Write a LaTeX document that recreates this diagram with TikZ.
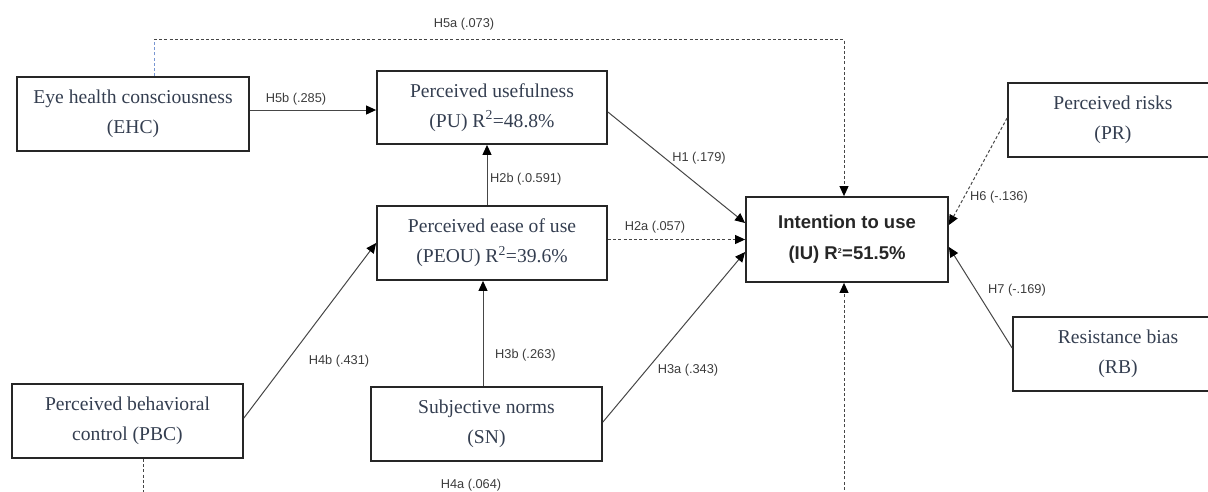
\documentclass[tikz,border=0pt]{standalone}
\usepackage{fontspec}
\setmainfont{Liberation Serif}
\setsansfont{Liberation Sans}
\usetikzlibrary{arrows.meta}
\definecolor{boxtext}{RGB}{52,62,80}
\definecolor{linegray}{RGB}{70,70,70}
\definecolor{labgray}{RGB}{60,60,60}
\definecolor{dotblue}{RGB}{120,150,210}
\tikzset{
  box/.style={draw=black!85, line width=1.8pt, rectangle, inner sep=0pt, align=center,
    text=boxtext, font=\fontsize{19.6}{30}\selectfont},
  ivbox/.style={draw=black!85, line width=1.8pt, rectangle, inner sep=0pt, align=center,
    text=black!85, font=\sffamily\bfseries\fontsize{18.5}{31}\selectfont},
  conn/.style={draw=linegray, line width=1pt},
  arr/.style={conn, -{Triangle[length=10pt,width=9pt,fill=black,color=black]}},
  dsh/.style={dash pattern=on 3pt off 2.2pt},
  lab/.style={text=labgray, font=\sffamily\fontsize{12.8}{14}\selectfont, inner sep=0pt},
}
\begin{document}
\begin{tikzpicture}[x=1pt,y=-1pt]
\useasboundingbox (0,0) rectangle (1208,491);
\clip (0,0) rectangle (1208,491);
% boxes
\node[box, minimum width=232, minimum height=74] (EHC) at (133,114) {Eye health consciousness\\(EHC)};
\node[box, minimum width=230, minimum height=73] (PU) at (492,107.5) {Perceived usefulness\\(PU) R\textsuperscript{2}=48.8\%};
\node[box, minimum width=230, minimum height=74] (PEOU) at (492,243) {Perceived ease of use\\(PEOU) R\textsuperscript{2}=39.6\%};
\node[box, minimum width=231, minimum height=74] (SN) at (486.5,424) {Subjective norms\\(SN)};
\node[box, minimum width=231, minimum height=74] (PBC) at (127.5,421) {Perceived behavioral\\control (PBC)};
\node[ivbox, minimum width=202, minimum height=85] (IU) at (847,239.5) {Intention to use\\(IU) R\textsuperscript{\scriptsize 2}=51.5\%};
\node[box, minimum width=210, minimum height=74] (PR) at (1113,120) {Perceived risks\\(PR)};
\node[box, minimum width=210, minimum height=74] (RB) at (1118,354) {Resistance bias\\(RB)};
% helper coordinates
\coordinate (h5aL) at ([xshift=21pt]EHC.north);
\coordinate (h5aC) at (154,39);
\coordinate (h5aR) at (844,39);
\coordinate (h4aL) at (143,495);
\coordinate (h4aR) at (844,495);
% connectors
\draw[arr] (EHC.east |- 0,110) -- (PU.west |- 0,110);
\draw[arr] ([xshift=-5pt]PEOU.north) -- ([xshift=-5pt]PU.south);
\draw[arr] ([xshift=-3.5pt]SN.north) -- ([xshift=-3.5pt]SN.north |- PEOU.south);
\draw[arr] ([yshift=-4.5pt]PU.east) -- ([yshift=16.5pt]IU.west);
\draw[arr, dsh] (PEOU.east |- IU.west) -- (IU.west);
\draw[arr] ([yshift=2pt]SN.east) -- ([yshift=-12.5pt]IU.west);
\draw[arr] ([yshift=3pt]PBC.east) -- (PEOU.west);
\draw[conn, dsh, draw=dotblue] (h5aL) -- (h5aC);
\draw[arr, dsh] (h5aC) -- (h5aR) -- ([xshift=-3pt]IU.north);
\draw[arr, dsh] ([yshift=2pt]PR.west) -- ([yshift=14.5pt]IU.east);
\draw[arr] ([yshift=6pt]RB.west) -- ([yshift=-7.5pt]IU.east);
\draw[conn, dsh] ([xshift=15.5pt]PBC.south) -- (h4aL);
\draw[arr, dsh] (h4aR) -- ([xshift=-3pt]IU.south);
% labels
\node[lab] (lH5a) at (464,24) {H5a (.073)};
\node[lab] (lH5b) at (296,99) {H5b (.285)};
\node[lab] (lH1) at (699,158) {H1 (.179)};
\node[lab, anchor=west] (lH2b) at (490,179) {H2b (.0.591)};
\node[lab] (lH2a) at (655,227) {H2a (.057)};
\node[lab, anchor=west] (lH3b) at (495,355) {H3b (.263)};
\node[lab] (lH4b) at (339,361) {H4b (.431)};
\node[lab] (lH3a) at (688,370) {H3a (.343)};
\node[lab] (lH4a) at (471,485) {H4a (.064)};
\node[lab] (lH6) at (999,197) {H6 (-.136)};
\node[lab] (lH7) at (1017,290) {H7 (-.169)};
\end{tikzpicture}
\end{document}
